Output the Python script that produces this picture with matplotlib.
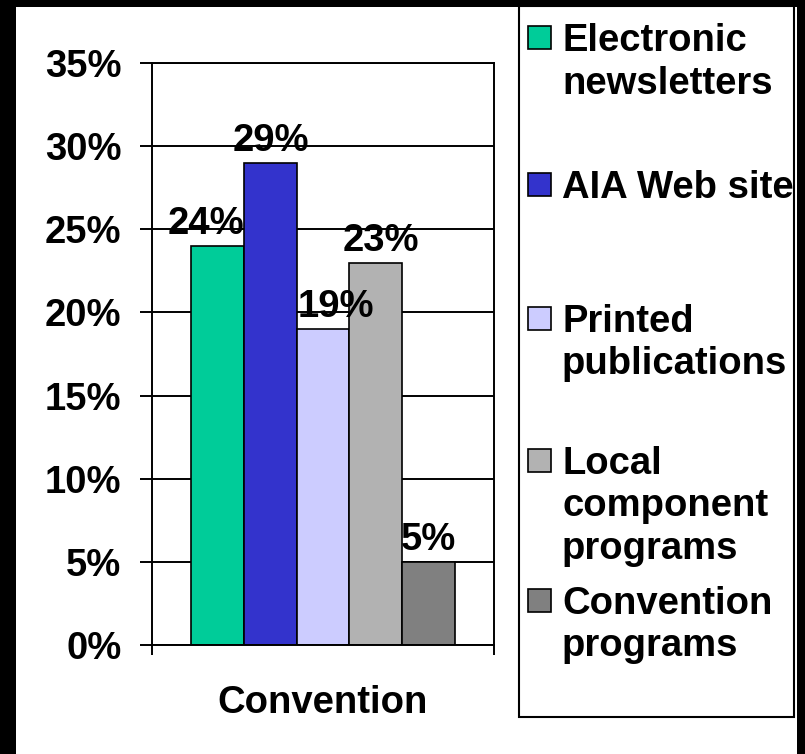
import numpy as np
import matplotlib
matplotlib.use('Agg')
import matplotlib.pyplot as plt
from matplotlib.patches import Rectangle
from matplotlib.ticker import FuncFormatter

# %% Data
group_label = 'Convention'
series_names = ['Electronic\nnewsletters', 'AIA Web site', 'Printed\npublications',
                'Local\ncomponent\nprograms', 'Convention\nprograms']
values = [24, 29, 19, 23, 5]
colors = ['#00CC99', '#3333CC', '#CCCCFF', '#B2B2B2', '#808080']
y_ticks = [0, 5, 10, 15, 20, 25, 30, 35]

# label nudges (pixels) as in the original slide
label_dx = [-12, 0, 13, 5, 0]

# %% Figure setup
W, H = 805, 754
plt.rcParams['font.family'] = ['Liberation Sans', 'DejaVu Sans']
plt.rcParams['font.weight'] = 'bold'
FS = 27.5

def fx(px):
    return px / W

def fy(py):
    return 1 - py / H

fig = plt.figure(figsize=(W / 100, H / 100), dpi=100)
fig.patch.set_facecolor('black')
fig.patches.append(Rectangle((fx(16), 0), fx(797) - fx(16), fy(7), transform=fig.transFigure,
                             facecolor='white', edgecolor='none', zorder=-10))

ax = fig.add_axes([fx(152), fy(645), fx(494) - fx(152), fy(63) - fy(645)])
ax.set_facecolor('white')

# %% Bars
n = len(values)
w = 1 / (n + 1.5)
xs = 0.75 * w + w * (np.arange(n) + 0.5)
bars = ax.bar(xs, values, width=w, color=colors, edgecolor='black', linewidth=1.2, zorder=2)

for b, v, dx in zip(bars, values, label_dx):
    ax.annotate('%d%%' % v, (b.get_x() + b.get_width() / 2, b.get_height()),
                xytext=(dx * 0.72, 12 * 0.72), textcoords='offset points',
                ha='center', va='baseline', fontsize=FS, fontweight='bold', zorder=4)

# %% Axes
ax.set_xlim(0, 1)
ax.set_ylim(0, 35)
ax.set_yticks(y_ticks)
ax.yaxis.set_major_formatter(FuncFormatter(lambda v, p: '%d%%' % v))
ax.yaxis.grid(True, color='black', linewidth=1.4)
ax.set_axisbelow(True)
ax.set_xticks([0, 1])
ax.set_xticklabels(['', ''])
ax.set_xticks([0.5], [group_label], minor=True)
ax.tick_params(axis='y', direction='out', length=8.6, width=1.4, pad=13.5, labelsize=FS)
ax.tick_params(axis='x', which='major', direction='out', length=7.5, width=1.4)
ax.tick_params(axis='x', which='minor', length=0, pad=29, labelsize=FS)
for lbl in ax.get_yticklabels() + ax.get_xticklabels(minor=True):
    lbl.set_fontweight('bold')
for s in ax.spines.values():
    s.set_color('black')
    s.set_linewidth(1.4)

# %% Legend (drawn by hand to keep the slide's uneven spacing)
fig.patches.append(Rectangle((fx(519), fy(717)), fx(794) - fx(519), fy(6) - fy(717),
                             transform=fig.transFigure, facecolor='white',
                             edgecolor='black', linewidth=1.5, zorder=1))
entry_centers = [37, 184, 318, 460, 600]
line_step = 42.5
for name, col, yc in zip(series_names, colors, entry_centers):
    fig.patches.append(Rectangle((fx(528), fy(yc + 11.5)), fx(551) - fx(528), fy(yc - 11.5) - fy(yc + 11.5),
                                 transform=fig.transFigure, facecolor=col,
                                 edgecolor='black', linewidth=1.2, zorder=2))
    for j, line in enumerate(name.split('\n')):
        fig.text(fx(562), fy(yc + 14 + j * line_step), line, fontsize=FS, fontweight='bold',
                 ha='left', va='baseline', zorder=3)

fig.savefig('out.png', dpi=100, facecolor=fig.get_facecolor())
